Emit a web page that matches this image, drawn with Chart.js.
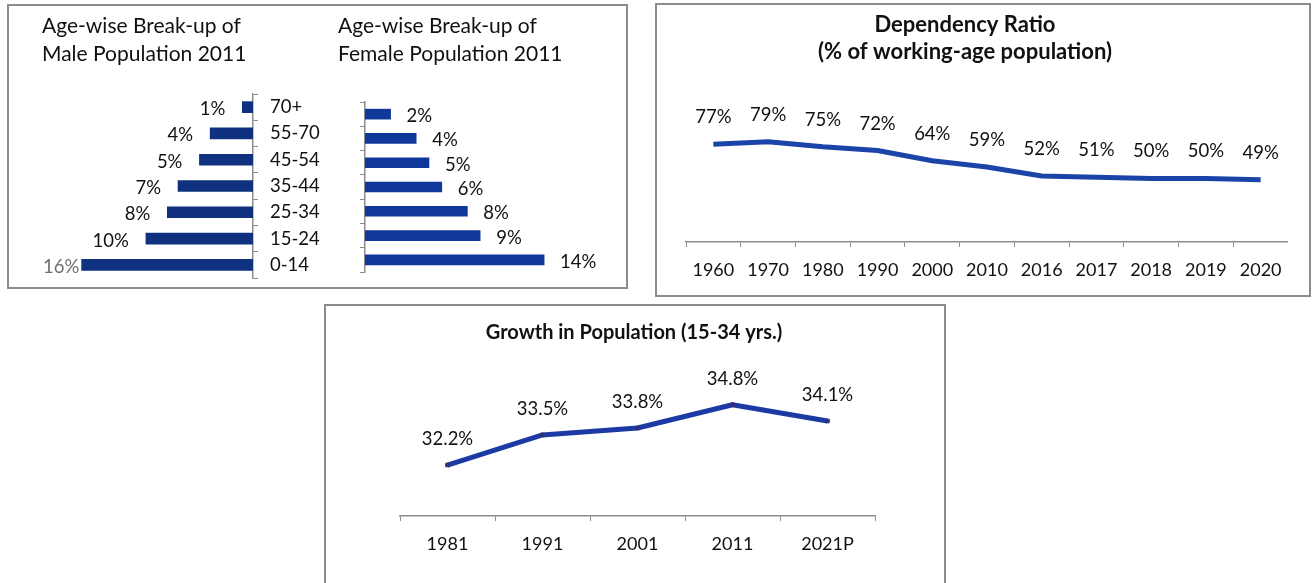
<!DOCTYPE html>
<html>
<head>
<meta charset="utf-8">
<title>Population charts</title>
<script src="https://cdn.jsdelivr.net/npm/chart.js@4.4.1/dist/chart.umd.min.js"></script>
<style>
  body { margin: 0; background: #fff; }
  #page { position: relative; width: 1314px; height: 583px; overflow: hidden; background: #fff; }
  .box { position: absolute; border: 2px solid #8c8c8c; box-sizing: border-box; }
  canvas { position: absolute; }
</style>
</head>
<body>
<div id="page">
  <div class="box" style="left:7px;top:4px;width:621px;height:285px"></div>
  <div class="box" style="left:655px;top:3px;width:656px;height:294px"></div>
  <div class="box" style="left:324px;top:304px;width:622px;height:290px"></div>
  <canvas id="male" width="322" height="283" style="left:8px;top:5px"></canvas>
  <canvas id="female" width="296" height="283" style="left:330px;top:5px"></canvas>
  <canvas id="dependency" width="646" height="290" style="left:642px;top:4px"></canvas>
  <canvas id="growth" width="492" height="277" style="left:388px;top:306px"></canvas>
</div>
<script>
// age groups, top row first
const ageGroups = ['70+', '55-70', '45-54', '35-44', '25-34', '15-24', '0-14'];
const maleShare = [1, 4, 5, 7, 8, 10, 16];
const femaleShare = [2, 4, 5, 6, 8, 9, 14];

const depYears = ['1960', '1970', '1980', '1990', '2000', '2010', '2016', '2017', '2018', '2019', '2020'];
const depRatio = [77, 79, 75, 72, 64, 59, 52, 51, 50, 50, 49];

const growthYears = ['1981', '1991', '2001', '2011', '2021P'];
const growthShare = [32.2, 33.5, 33.8, 34.8, 34.1];

const FONT = 'Lato, "Liberation Sans", sans-serif';
const axisGrey = '#8c8c8c';

// draws "n%" next to each bar / point
function valueLabels(place) {
  return {
    id: 'valueLabels',
    afterDatasetsDraw(chart) {
      const ctx = chart.ctx;
      const meta = chart.getDatasetMeta(0);
      const values = chart.data.datasets[0].data;
      ctx.save();
      ctx.font = '18.5px ' + FONT;
      ctx.textBaseline = 'middle';
      meta.data.forEach((el, i) => {
        place(ctx, el, values[i] + '%');
      });
      ctx.restore();
    }
  };
}

function ageTitle(sex, bottom) {
  return {
    display: true,
    text: ['Age-wise Break-up of', sex + ' Population 2011'],
    align: 'start',
    color: '#111',
    font: { family: FONT, size: 21, weight: 'normal', lineHeight: 28 / 21 },
    padding: { top: 7, bottom: bottom }
  };
}

new Chart(document.getElementById('male'), {
  type: 'bar',
  data: {
    labels: ageGroups,
    datasets: [{ data: maleShare, backgroundColor: '#0f3180', barThickness: 11 }]
  },
  options: {
    indexAxis: 'y',
    responsive: false,
    animation: false,
    layout: { padding: { left: 34, right: 0, top: 0, bottom: 10 } },
    plugins: {
      legend: { display: false },
      tooltip: { enabled: false },
      title: ageTitle('Male', 26)
    },
    scales: {
      x: { display: false, reverse: true, min: 0, max: 19.7 },
      y: {
        position: 'right',
        // fixed width, and keep the tick labels from shrinking the rows
        afterFit: s => { s.width = 77; s.paddingTop = 0; s.paddingBottom = 0; },
        border: { color: axisGrey, width: 1.5 },
        grid: { drawOnChartArea: false, tickLength: 5, color: axisGrey },
        ticks: { color: '#111', padding: 12, font: { family: FONT, size: 18.5 } }
      }
    }
  },
  plugins: [valueLabels((ctx, el, text) => {
    const w = ctx.measureText(text).width;
    let x = el.x - 17;
    ctx.fillStyle = '#111';
    if (x - w < 35) { x = 35 + w; ctx.fillStyle = '#6e6e6e'; }
    ctx.textAlign = 'right';
    ctx.fillText(text, x, el.y + 2);
  })]
});

new Chart(document.getElementById('female'), {
  type: 'bar',
  data: {
    labels: ageGroups,
    datasets: [{ data: femaleShare, backgroundColor: '#10379a', barThickness: 10 }]
  },
  options: {
    indexAxis: 'y',
    responsive: false,
    animation: false,
    layout: { padding: { left: 8, right: 0, top: 0, bottom: 16 } },
    plugins: {
      legend: { display: false },
      tooltip: { enabled: false },
      title: ageTitle('Female', 34)
    },
    scales: {
      x: { display: false, min: 0, max: 20.4 },
      y: {
        afterFit: s => { s.width = 27; s.paddingTop = 0; s.paddingBottom = 0; },
        border: { color: axisGrey, width: 1.5 },
        grid: { drawOnChartArea: false, tickLength: 5, color: axisGrey },
        ticks: { display: false }
      }
    }
  },
  plugins: [valueLabels((ctx, el, text) => {
    ctx.fillStyle = '#111';
    ctx.textAlign = 'left';
    ctx.fillText(text, el.x + 16, el.y + 2);
  })]
});

function lineOptions(title, yMin, yMax, yWidth, xHeight) {
  return {
    responsive: false,
    animation: false,
    layout: { padding: 0 },
    plugins: {
      legend: { display: false },
      tooltip: { enabled: false },
      title: title
    },
    scales: {
      y: {
        min: yMin, max: yMax,
        afterFit: s => { s.width = yWidth; },
        grid: { display: false },
        border: { display: false },
        ticks: { display: false }
      },
      x: {
        offset: true,
        afterFit: s => { s.height = xHeight; s.paddingLeft = 0; s.paddingRight = 0; },
        border: { color: axisGrey, width: 1.5 },
        grid: { offset: true, drawOnChartArea: false, tickLength: 5, color: axisGrey },
        ticks: { color: '#111', padding: 12, maxRotation: 0, autoSkip: false, font: { family: FONT, size: 18 } }
      }
    }
  };
}

new Chart(document.getElementById('dependency'), {
  type: 'line',
  data: {
    labels: depYears,
    datasets: [{
      data: depRatio,
      borderColor: '#1b44a9',
      borderWidth: 5,
      borderJoinStyle: 'round',
      pointRadius: 0,
      tension: 0
    }]
  },
  options: lineOptions({
    display: true,
    text: ['Dependency Ratio', '(% of working-age population)'],
    color: '#111',
    font: { family: FONT, size: 22, weight: 'bold', lineHeight: 27 / 22 },
    padding: { top: 7, bottom: 50 }
  }, 0, 100, 44, 52),
  plugins: [valueLabels((ctx, el, text) => {
    ctx.fillStyle = '#111';
    ctx.textAlign = 'center';
    ctx.fillText(text, el.x, el.y - 27);
  })]
});

new Chart(document.getElementById('growth'), {
  type: 'line',
  data: {
    labels: growthYears,
    datasets: [{
      data: growthShare,
      borderColor: '#1c3aa3',
      borderWidth: 5,
      borderJoinStyle: 'round',
      pointStyle: 'rect',
      pointRadius: 2.5,
      pointBackgroundColor: '#33307a',
      pointBorderColor: '#33307a',
      pointBorderWidth: 1,
      tension: 0
    }]
  },
  options: lineOptions({
    display: true,
    text: 'Growth in Population (15-34 yrs.)',
    color: '#111',
    font: { family: FONT, size: 20, weight: 'bold', lineHeight: 1.2 },
    padding: { top: 15, bottom: 32 }
  }, 30, 36, 12, 67),
  plugins: [valueLabels((ctx, el, text) => {
    ctx.fillStyle = '#111';
    ctx.textAlign = 'center';
    ctx.fillText(text, el.x, el.y - 26);
  })]
});
</script>
</body>
</html>
